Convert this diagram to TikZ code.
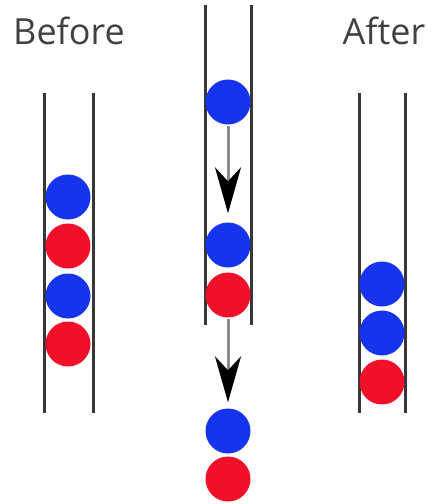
\documentclass[tikz,border=0pt]{standalone}
\usepackage{fontspec}
\setmainfont{Open Sans}
\usetikzlibrary{arrows.meta}
\definecolor{ballblue}{RGB}{22,52,238}
\definecolor{ballred}{RGB}{240,16,42}
\definecolor{tubegray}{RGB}{55,55,55}
\definecolor{shaftgray}{RGB}{140,140,140}
\definecolor{textgray}{RGB}{65,65,65}
\tikzset{
  x=1pt, y=-1pt,
  ball/.style={circle, minimum size=45pt, inner sep=0pt},
  bball/.style={ball, fill=ballblue},
  rball/.style={ball, fill=ballred},
  tube/.style={draw=tubegray, line width=3pt},
  flow/.style={draw=shaftgray, line width=3pt, -{Stealth[black, length=46pt, width=26pt, inset=14pt]}, shorten <=1pt},
  label/.style={text=textgray, font=\fontsize{36}{42}\selectfont, inner sep=0pt}
}
\begin{document}
\begin{tikzpicture}
\useasboundingbox (0,0) rectangle (432,504);
% labels
\node[label] (before) at (69,31) {Before};
\node[label] (after) at (384,31) {After};
% tubes
\draw[tube] (44,93) -- (44,413);
\draw[tube] (93,93) -- (93,413);
\draw[tube] (205,5) -- (205,325);
\draw[tube] (251,5) -- (251,325);
\draw[tube] (359,93) -- (359,413);
\draw[tube] (405,93) -- (405,413);
% left balls
\node[bball] (l1) at (68,197) {};
\node[rball] (l2) at (68,246) {};
\node[bball] (l3) at (68,296) {};
\node[rball] (l4) at (68,344) {};
% right balls
\node[bball] (r1) at (382,284) {};
\node[bball] (r2) at (382,333) {};
\node[rball] (r3) at (382,382) {};
% middle balls
\node[bball] (m1) at (228,102) {};
\node[bball] (m2) at (228,245) {};
\node[rball] (m3) at (228,295) {};
\node[bball] (m4) at (228,431) {};
\node[rball] (m5) at (228,479) {};
% arrows
\draw[flow, shorten >=9pt] (m1) -- (m2);
\draw[flow, shorten >=6pt] (m3) -- (m4);
\end{tikzpicture}
\end{document}
